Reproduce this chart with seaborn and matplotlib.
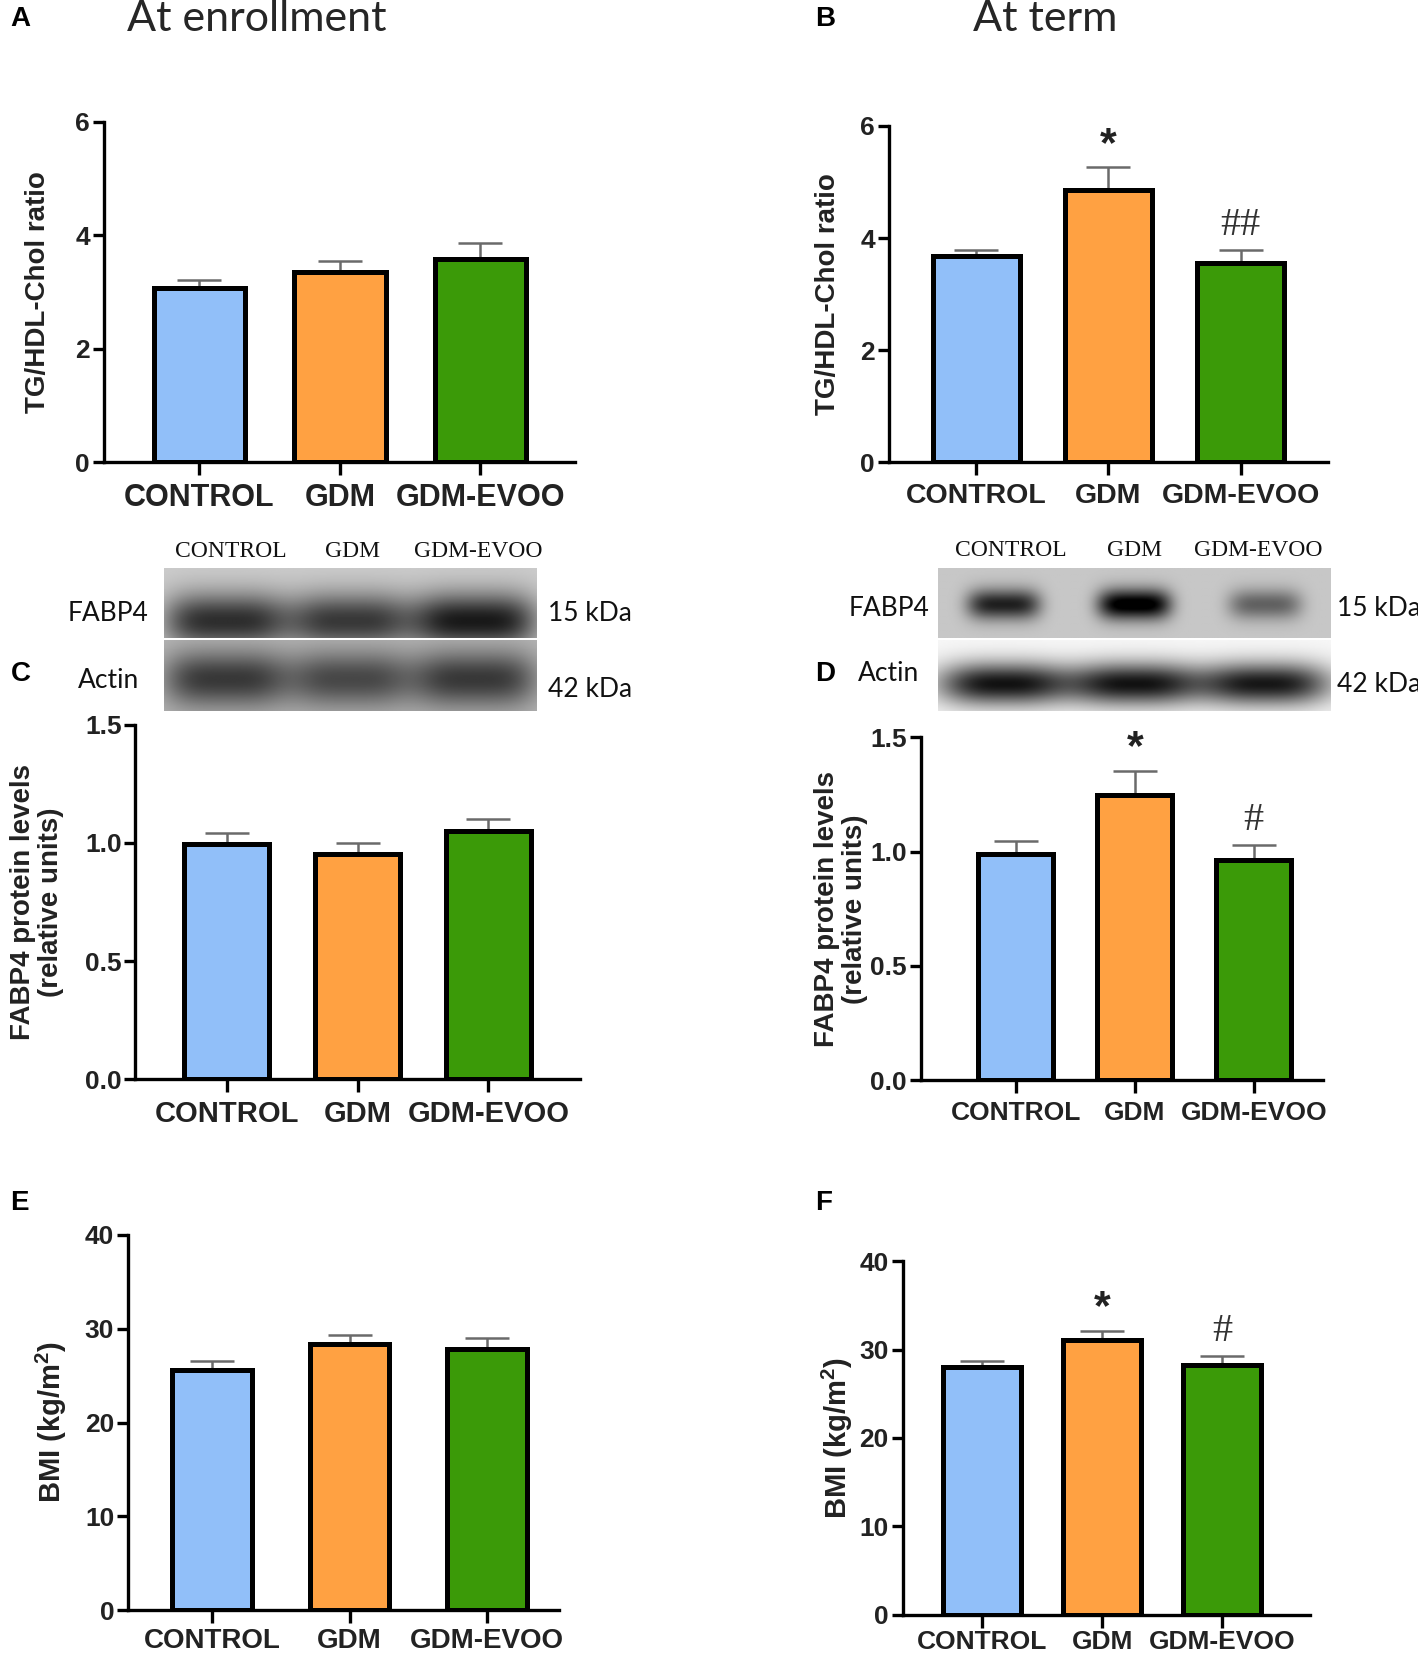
import numpy as np
import pandas as pd
import matplotlib
matplotlib.use("Agg")
import matplotlib.pyplot as plt
import seaborn as sns

# groups and colours
groups = ["CONTROL", "GDM", "GDM-EVOO"]
bar_colors = ["#91bff9", "#ffa142", "#3b9a08"]

# A / B : TG/HDL-Chol ratio (mean, SEM)
tg_enroll = [3.07, 3.35, 3.58]
tg_enroll_sem = [0.14, 0.19, 0.29]
tg_term = [3.68, 4.85, 3.55]
tg_term_sem = [0.11, 0.41, 0.24]
tg_term_sig = ["", "*", "##"]

# C / D : FABP4 protein levels
fabp4_enroll = [0.995, 0.955, 1.05]
fabp4_enroll_sem = [0.045, 0.045, 0.05]
fabp4_term = [0.99, 1.25, 0.965]
fabp4_term_sem = [0.055, 0.105, 0.065]
fabp4_term_sig = ["", "*", "#"]

# E / F : BMI
bmi_enroll = [25.6, 28.4, 27.8]
bmi_enroll_sem = [0.9, 0.9, 1.15]
bmi_term = [28.0, 31.1, 28.3]
bmi_term_sem = [0.7, 1.0, 1.0]
bmi_term_sig = ["", "*", "#"]

# western blot band strengths per lane (0 = none, 1 = black)
blot_c_fabp4 = [0.62, 0.58, 0.70]
blot_c_actin = [0.50, 0.44, 0.50]
blot_d_fabp4 = [0.66, 0.85, 0.40]
blot_d_actin = [0.90, 0.90, 0.88]

sns.set_style("ticks")
plt.rcParams["font.family"] = ["Liberation Sans", "DejaVu Sans"]
plt.rcParams["mathtext.fontset"] = "custom"
plt.rcParams["mathtext.rm"] = "Liberation Sans"
plt.rcParams["mathtext.bf"] = "Liberation Sans:bold"

W, H = 1340, 1568  # layout frame (reference measured in these units)


def box(x0, y0, x1, y1):
    return [x0 / W, 1 - y1 / H, (x1 - x0) / W, (y1 - y0) / H]


fig = plt.figure(figsize=(14.18, 16.59), dpi=100)


def bar_panel(rect, vals, sems, ymax, yticks, ylabels, xlim, width, ylabel, label_x, sig=None,
              label_size=20, xpad=6, xsize=21):
    ax = fig.add_axes(box(*rect))
    df = pd.DataFrame({"group": groups, "value": vals})
    sns.barplot(data=df, x="group", y="value", hue="group", palette=bar_colors,
                legend=False, width=width, edgecolor="black", linewidth=3.6,
                saturation=1, ax=ax, zorder=3)
    ax.errorbar(range(3), vals, yerr=[[0, 0, 0], sems], fmt="none", ecolor="#6a6a6a",
                elinewidth=1.8, capsize=16, capthick=1.8, zorder=2)
    if sig:
        for i, s in enumerate(sig):
            if not s:
                continue
            if s == "*":
                ax.annotate(s, (i, vals[i] + sems[i]), xytext=(0, 2), textcoords="offset points",
                            ha="center", va="bottom", fontsize=31, fontweight="bold", color="#222222")
            else:
                ax.annotate(s, (i, vals[i] + sems[i]), xytext=(0, 4), textcoords="offset points",
                            ha="center", va="bottom", fontsize=29, family="Liberation Serif",
                            color="#333333")
    ax.set_xlim(*xlim)
    ax.set_ylim(0, ymax)
    ax.set_yticks(yticks)
    ax.set_yticklabels(ylabels)
    ax.set_xlabel("")
    ax.set_ylabel(ylabel, fontsize=label_size, fontweight="bold", color="#222222", linespacing=1.1)
    ax.yaxis.set_label_coords(label_x, 0.5)
    sns.despine(ax=ax)
    for sp in ["left", "bottom"]:
        ax.spines[sp].set_linewidth(2.4)
        ax.spines[sp].set_color("black")
    ax.tick_params(axis="both", width=2.4, color="black", labelcolor="#222222")
    ax.tick_params(axis="x", labelsize=xsize, pad=xpad, length=9)
    ax.tick_params(axis="y", labelsize=19, pad=2, length=8)
    for lbl in ax.get_xticklabels() + ax.get_yticklabels():
        lbl.set_fontweight("bold")
    return ax


def band_image(strengths, bg, half_width, centre, spread, power=4, nrows=80, ncols=360):
    x = np.linspace(0, 3, ncols)[None, :]
    y = np.linspace(0, 1, nrows)[:, None]
    img = np.full((nrows, ncols), bg, dtype=float)
    for i, s in enumerate(strengths):
        gx = np.exp(-np.abs((x - (i + 0.5)) / half_width) ** power)
        gy = np.exp(-((y - centre) / spread) ** 2)
        img = img - s * gx * gy
    return np.clip(img, 0, 1)


def blot_row(rect, img):
    ax = fig.add_axes(box(*rect))
    ax.imshow(img, cmap="gray", vmin=0, vmax=1, aspect="auto", interpolation="bilinear")
    ax.set_axis_off()


# ---- A
bar_panel((98, 115, 543, 437), tg_enroll, tg_enroll_sem, 6, [0, 2, 4, 6], ["0", "2", "4", "6"],
          (-0.68, 2.67), 0.65, "TG/HDL-Chol ratio", -0.112, xsize=22)
# ---- B
bar_panel((840, 119, 1255, 437), tg_term, tg_term_sem, 6, [0, 2, 4, 6], ["0", "2", "4", "6"],
          (-0.66, 2.66), 0.66, "TG/HDL-Chol ratio", -0.108, tg_term_sig, xsize=20.5)
# ---- C
bar_panel((128, 685, 548, 1020), fabp4_enroll, fabp4_enroll_sem, 1.5, [0, 0.5, 1.0, 1.5],
          ["0.0", "0.5", "1.0", "1.5"], (-0.70, 2.70), 0.65,
          "FABP4 protein levels\n(relative units)", -0.16, xsize=21)
# ---- D
bar_panel((870, 697, 1250, 1021), fabp4_term, fabp4_term_sem, 1.5, [0, 0.5, 1.0, 1.5],
          ["0.0", "0.5", "1.0", "1.5"], (-0.80, 2.58), 0.63,
          "FABP4 protein levels\n(relative units)", -0.13, fabp4_term_sig, xsize=19)
# ---- E
bar_panel((121, 1167, 528, 1522), bmi_enroll, bmi_enroll_sem, 40, [0, 10, 20, 30, 40],
          ["0", "10", "20", "30", "40"], (-0.61, 2.52), 0.58, r"BMI (kg/m$^{\mathbf{2}}$)",
          -0.138, label_size=21, xpad=4, xsize=20)
# ---- F
bar_panel((853, 1192, 1238, 1526), bmi_term, bmi_term_sem, 40, [0, 10, 20, 30, 40],
          ["0", "10", "20", "30", "40"], (-0.66, 2.73), 0.65, r"BMI (kg/m$^{\mathbf{2}}$)",
          -0.117, bmi_term_sig, label_size=21, xpad=2, xsize=19)

# ---- blots
blot_row((155, 537, 507, 603), band_image(blot_c_fabp4, 0.80, 0.50, 0.76, 0.40))
blot_row((155, 605, 507, 672), band_image(blot_c_actin, 0.72, 0.50, 0.55, 0.40))
blot_row((886, 537, 1257, 603), band_image(blot_d_fabp4, 0.78, 0.28, 0.52, 0.22))
blot_row((886, 605, 1257, 672), band_image(blot_d_actin, 0.97, 0.50, 0.62, 0.30, power=3))


def ftext(x, y, s, **kw):
    fig.text(x / W, 1 - y / H, s, **kw)


serif = dict(family="Liberation Serif", fontsize=17, ha="center", va="center", color="#111111")
lato = dict(family="Lato", fontsize=19, va="center", color="#111111")
for x, g in zip([218, 333, 452], groups):
    ftext(x, 521, g, **serif)
for x, g in zip([955, 1072, 1189], groups):
    ftext(x, 520, g, **serif)
ftext(102, 580, "FABP4", ha="center", **lato)
ftext(103, 643, "Actin", ha="center", **lato)
ftext(518, 580, "15 kDa", ha="left", **lato)
ftext(518, 652, "42 kDa", ha="left", **lato)
ftext(840, 575, "FABP4", ha="center", **lato)
ftext(840, 637, "Actin", ha="center", **lato)
ftext(1263, 575, "15 kDa", ha="left", **lato)
ftext(1263, 647, "42 kDa", ha="left", **lato)

# titles and panel letters
ftext(120, 18, "At enrollment", family="Lato", fontsize=31, ha="left", va="center")
ftext(988, 18, "At term", family="Lato", fontsize=31, ha="center", va="center")
letters = {"A": (10, 18), "B": (770, 18), "C": (10, 637), "D": (770, 637),
           "E": (10, 1137), "F": (770, 1137)}
for k, (x, y) in letters.items():
    ftext(x, y, k, fontsize=20, fontweight="bold", ha="left", va="center", color="black")

fig.savefig("out.png", dpi=100, facecolor="white")
